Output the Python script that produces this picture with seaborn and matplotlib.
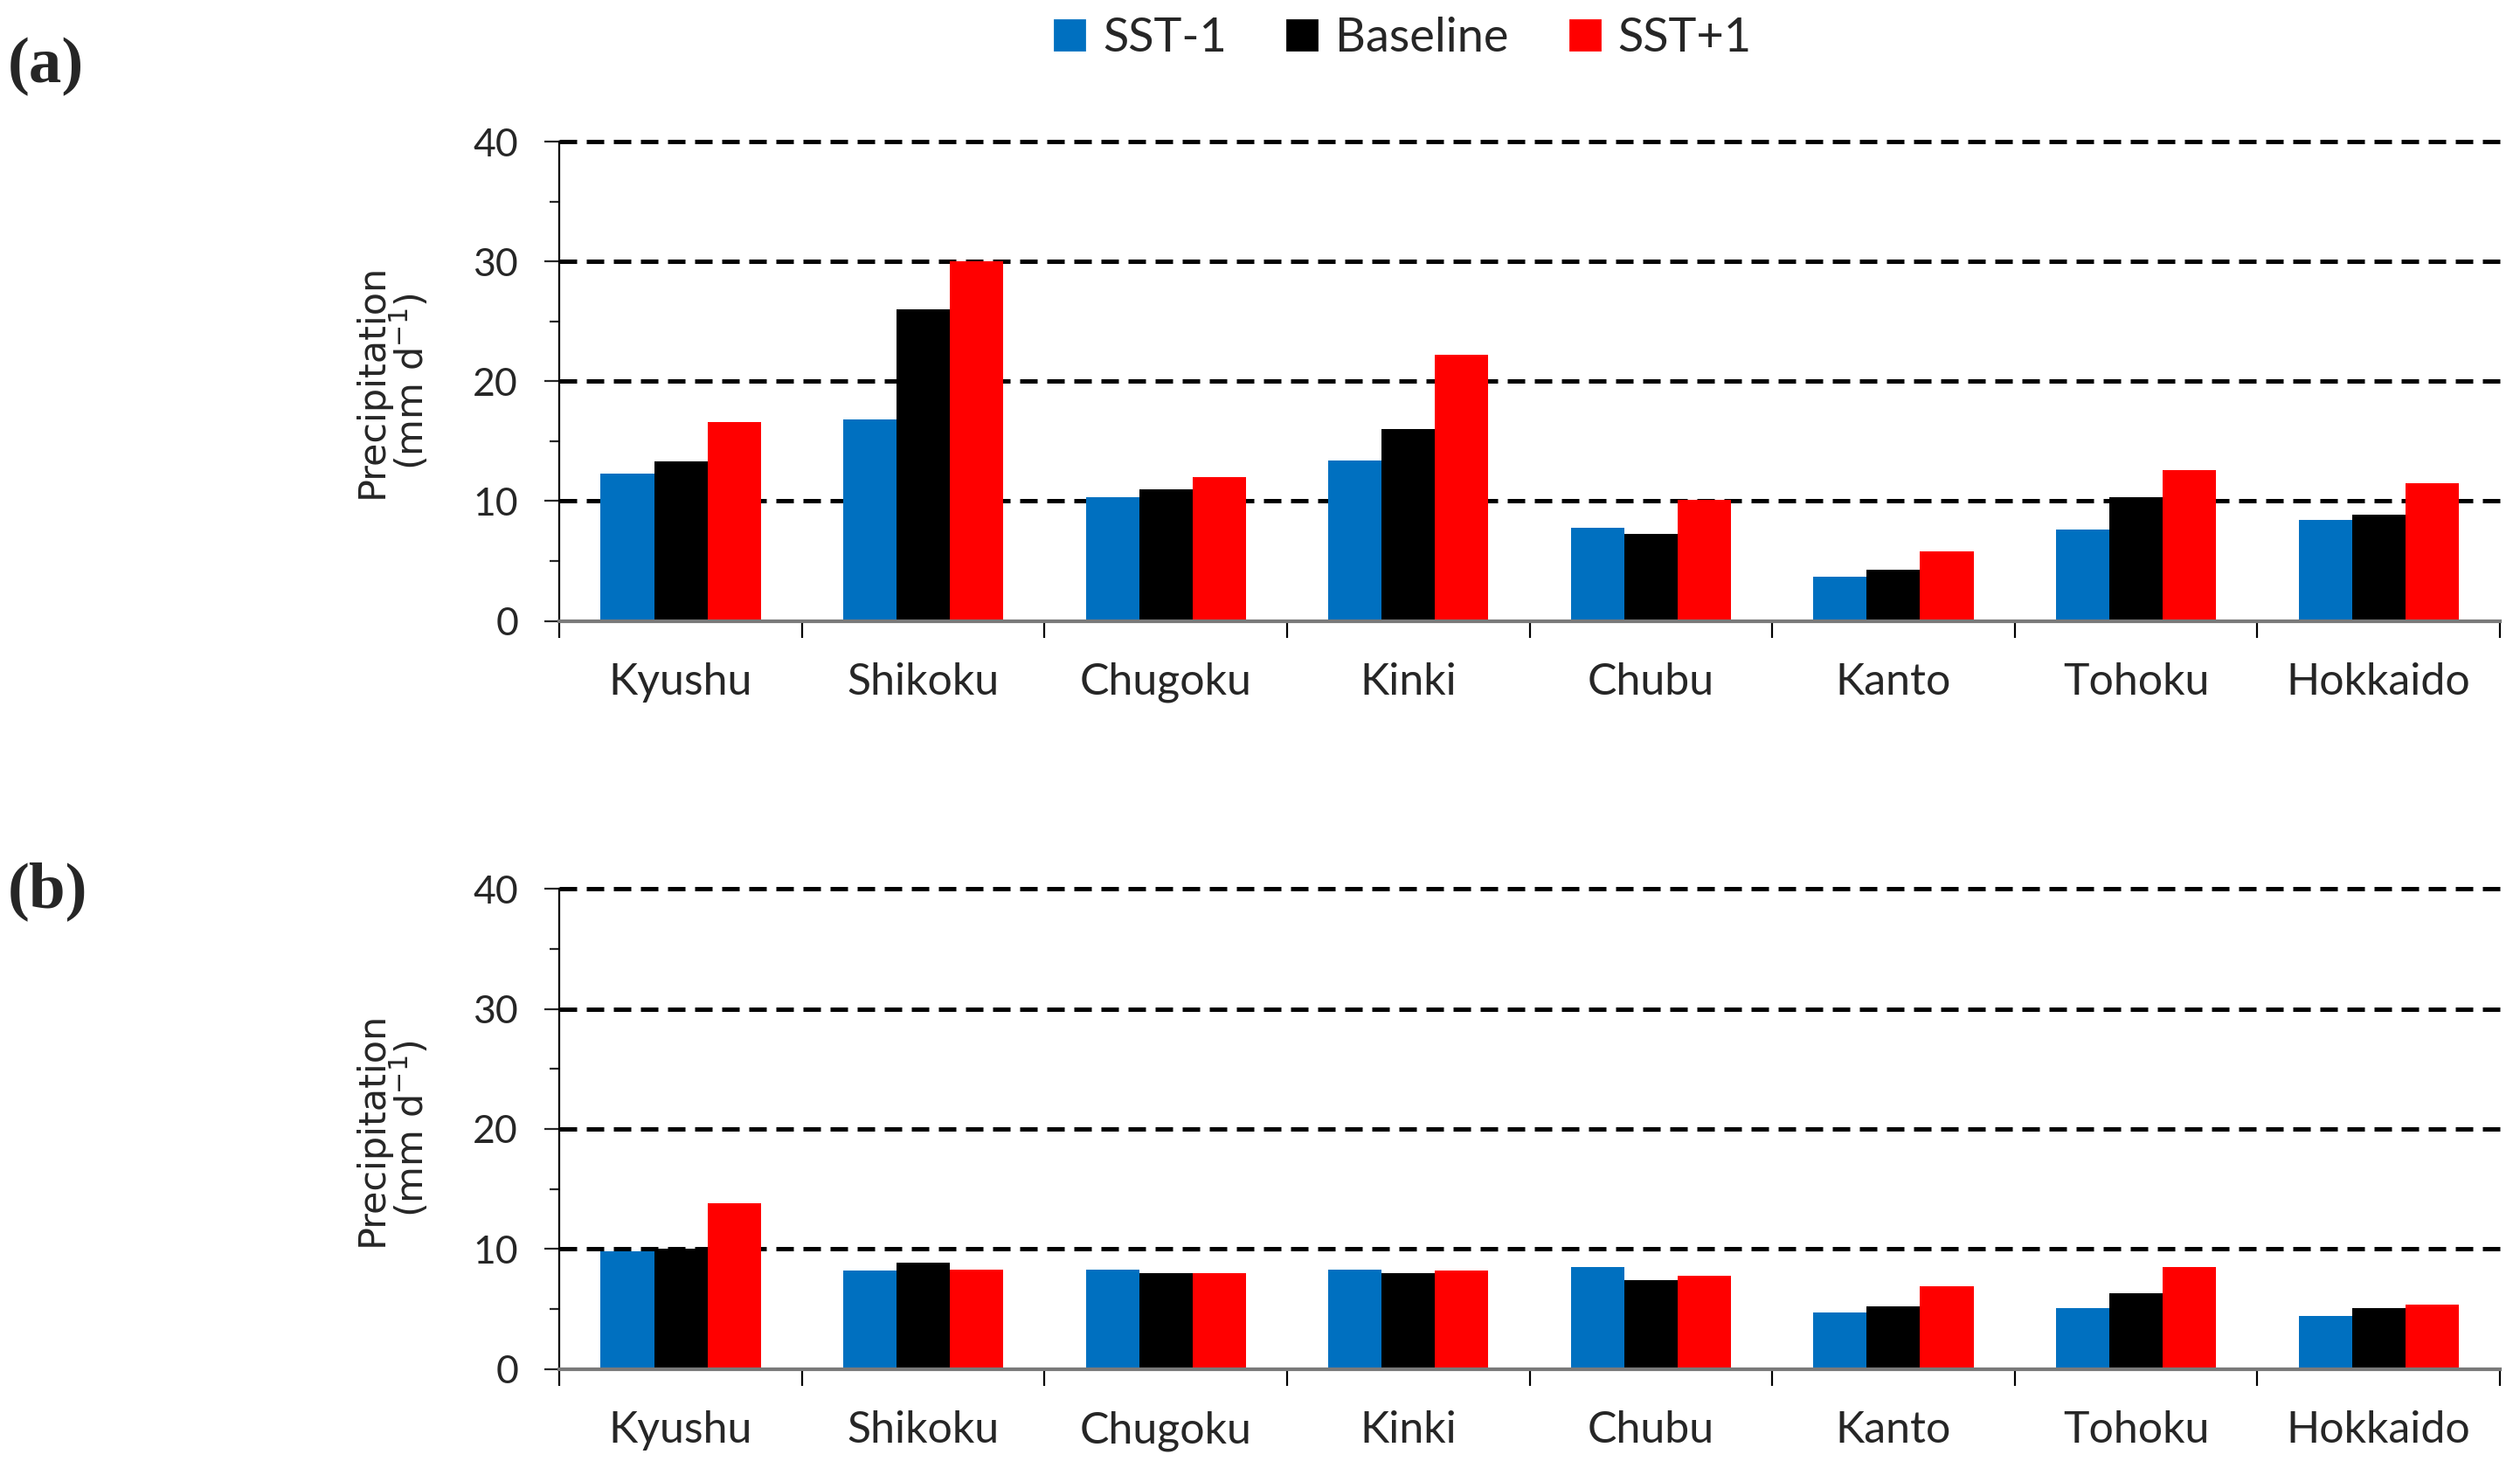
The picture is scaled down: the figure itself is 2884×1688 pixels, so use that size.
import numpy as np
import pandas as pd
import matplotlib.pyplot as plt
from matplotlib.lines import Line2D
from matplotlib.ticker import MultipleLocator, FixedLocator
import seaborn as sns

regions = ['Kyushu', 'Shikoku', 'Chugoku', 'Kinki', 'Chubu', 'Kanto', 'Tohoku', 'Hokkaido']
scenarios = ['SST-1', 'Baseline', 'SST+1']
colors = ['#0070C0', '#000000', '#FF0000']

# panel (a), mm/day
a_sst_minus = [12.3, 16.8, 10.3, 13.4, 7.8, 3.7, 7.6, 8.4]
a_baseline = [13.3, 26.0, 11.0, 16.0, 7.3, 4.3, 10.3, 8.9]
a_sst_plus = [16.6, 30.0, 12.0, 22.2, 10.1, 5.8, 12.6, 11.5]

# panel (b), mm/day
b_sst_minus = [9.8, 8.2, 8.3, 8.3, 8.5, 4.7, 5.1, 4.4]
b_baseline = [10.0, 8.9, 8.0, 8.0, 7.4, 5.2, 6.3, 5.1]
b_sst_plus = [13.8, 8.3, 8.0, 8.2, 7.8, 6.9, 8.5, 5.4]

y_ticks = [0, 10, 20, 30, 40]


def to_long(series_list):
    rows = []
    for scen, vals in zip(scenarios, series_list):
        for reg, v in zip(regions, vals):
            rows.append({'region': reg, 'scenario': scen, 'value': v})
    return pd.DataFrame(rows)


def draw_panel(ax, df):
    sns.barplot(data=df, x='region', y='value', hue='scenario', order=regions,
                hue_order=scenarios, palette=colors, width=0.66, gap=0,
                saturation=1, errorbar=None, linewidth=0, legend=False, ax=ax,
                zorder=2)
    ax.set_xlim(-0.5, len(regions) - 0.5)
    ax.set_ylim(y_ticks[0], y_ticks[-1])
    # dashed reference lines behind the bars
    ax.hlines(y_ticks[1:], -0.5, len(regions) - 0.5, colors='black',
              linestyles=(0, (4, 2.2)), linewidth=1.8, zorder=1, clip_on=False)

    ax.yaxis.set_major_locator(FixedLocator(y_ticks))
    ax.yaxis.set_minor_locator(MultipleLocator(5))
    ax.xaxis.set_minor_locator(FixedLocator(np.arange(-0.5, len(regions), 1)))

    ax.tick_params(axis='y', which='major', length=6, width=0.8, pad=11,
                   labelsize=16, direction='out')
    ax.tick_params(axis='y', which='minor', length=4, width=0.8, direction='out')
    ax.tick_params(axis='x', which='major', length=0, pad=17, labelsize=18)
    ax.tick_params(axis='x', which='minor', length=7, width=0.8, color='black',
                   direction='out')

    for s in ['top', 'right']:
        ax.spines[s].set_visible(False)
    ax.spines['left'].set_linewidth(0.8)
    ax.spines['left'].set_color('black')
    ax.spines['bottom'].set_linewidth(1.5)
    ax.spines['bottom'].set_color('#7a7a7a')

    ax.set_xlabel('')
    ax.set_ylabel('Precipitation\n(mm d$^{-1}$)', family='DejaVu Sans',
                  fontsize=15.5, linespacing=1.0)
    ax.yaxis.set_label_coords(-0.066, 0.5)


sns.set_style('ticks')
plt.rcParams['font.family'] = ['Lato', 'DejaVu Sans']

fig = plt.figure(figsize=(14.42, 8.44), dpi=200)
ax_a = fig.add_axes([0.222, 0.579, 0.770, 0.325])
ax_b = fig.add_axes([0.222, 0.0717, 0.770, 0.3258])

draw_panel(ax_a, to_long([a_sst_minus, a_baseline, a_sst_plus]))
draw_panel(ax_b, to_long([b_sst_minus, b_baseline, b_sst_plus]))

fig.text(0.003, 0.955, '(a)', family='Liberation Serif', fontweight='bold',
         fontsize=27, va='center', ha='left')
fig.text(0.003, 0.3955, '(b)', family='Liberation Serif', fontweight='bold',
         fontsize=27, va='center', ha='left')

handles = [Line2D([], [], marker='s', linestyle='', color=c, markersize=12.5)
           for c in colors]
fig.legend(handles, scenarios, loc='center', bbox_to_anchor=(0.556, 0.974),
           ncol=3, frameon=False, fontsize=19.5, handlelength=0.8,
           handletextpad=0.3, columnspacing=1.2, borderaxespad=0)

fig.savefig('out.png', dpi=200)
